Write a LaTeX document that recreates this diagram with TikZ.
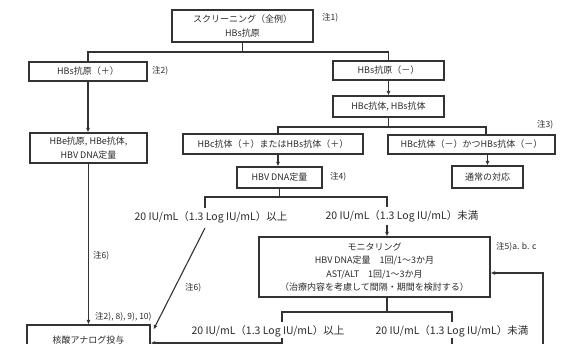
\documentclass[tikz,border=0pt]{standalone}
\usepackage{fontspec}
\setmainfont{Noto Sans CJK JP}
\usetikzlibrary{arrows.meta}
\definecolor{linec}{HTML}{333333}
\definecolor{txt}{HTML}{2B2B2B}
\begin{document}
\begin{tikzpicture}[x=1pt,y=-1pt,
 box/.style={draw=linec, line width=1.1pt, inner sep=0pt, align=center, text=txt, font=\fontsize{9}{13.5}\selectfont},
 lbl/.style={inner sep=0pt, text=txt, font=\fontsize{10.5}{12}\selectfont},
 note/.style={inner sep=0pt, anchor=west, text=txt, font=\fontsize{8.5}{10}\selectfont},
 conn/.style={draw=linec, line width=1.1pt},
 arr/.style={conn, -{Latex[length=4.5pt,width=4pt]}}]
\useasboundingbox (0,0) rectangle (573,344);
\fill[white] (0,0) rectangle (573,344);
\clip (0,0) rectangle (573,344);

\node[box, minimum width=141pt, minimum height=32pt] (top) at (242.5,26) {スクリーニング（全例）\\HBs抗原};
\node[box, minimum width=118pt, minimum height=19pt] (hbsp) at (88,71.5) {HBs抗原（＋）};
\node[box, minimum width=111pt, minimum height=19pt] (hbsn) at (388.5,70.5) {HBs抗原（－）};
\node[box, minimum width=111pt, minimum height=21pt] (hbcs) at (388.5,106.5) {HBc抗体, HBs抗体};
\node[box, minimum width=180pt, minimum height=20pt] (hbcp) at (273,144) {HBc抗体（＋）またはHBs抗体（＋）};
\node[box, minimum width=167pt, minimum height=19pt] (hbcn) at (471.5,144.5) {HBc抗体（－）かつHBs抗体（－）};
\node[box, minimum width=117pt, minimum height=30pt] (hbe) at (88.5,148) {HBe抗原, HBe抗体,\\HBV DNA定量};
\node[box, minimum width=85pt, minimum height=21pt] (hbv) at (279.5,177.5) {HBV DNA定量};
\node[box, minimum width=71pt, minimum height=22pt] (usual) at (487.5,177) {通常の対応};
\node[box, minimum width=231pt, minimum height=60pt] (mon) at (374.5,267) {モニタリング\\HBV DNA定量　1回/1～3か月\\AST/ALT　1回/1～3か月\\（治療内容を考慮して間隔・期間を検討する）};
\node[box, minimum width=123pt, minimum height=30pt] (nuc) at (88.5,340) {核酸アナログ投与};

\node[lbl] (u1) at (211,217) {20 IU/mL（1.3 Log IU/mL）以上};
\node[lbl] (u2) at (402,216) {20 IU/mL（1.3 Log IU/mL）未満};
\node[lbl] (l1) at (268,331) {20 IU/mL（1.3 Log IU/mL）以上};
\node[lbl] (l2) at (452,331) {20 IU/mL（1.3 Log IU/mL）未満};

\coordinate (hL) at (88,52);
\coordinate (hR) at (388.5,52);
\draw[conn] (top.south) -- (top.south |- hL);
\draw[conn] (hbsp.north) |- (hR) -- (hbsn.north);
\draw[arr] (hbsp.south) -- (hbsp.south |- hbe.north);
\draw[arr] (hbsn.south) -- (hbcs.north);

\coordinate (bL) at (278,127);
\coordinate (bR) at (486,127);
\draw[conn] (hbcs.south) -- (hbcs.south |- bL);
\draw[conn] (hbcp.north -| bL) -- (bL) -- (bR) -- (hbcn.north -| bR);
\draw[arr] (hbcp.south -| bL) -- (hbv.north -| bL);
\draw[arr] (hbcn.south -| usual.north) -- (usual.north);

\coordinate (cL) at (205,197);
\coordinate (cR) at (387,197);
\draw[conn] (hbv.south) -- (hbv.south |- cL);
\draw[conn] ([yshift=3pt]u1.north -| cL) -- (cL) -- (cR) -- ([yshift=3pt]u2.north -| cR);
\draw[arr] ([yshift=-3pt]u2.south -| cR) -- (mon.north -| cR);
\coordinate (d1) at (205,228);
\draw[arr] (d1) -- ([xshift=3pt,yshift=-5pt]nuc.north east);
\draw[arr] (hbe.south) -- (nuc.north);

\coordinate (eL) at (282,312);
\coordinate (eR) at (452,312);
\draw[conn] (mon.south -| cR) -- (cR |- eL);
\draw[conn] ([yshift=3pt]l1.north -| eL) -- (eL) -- (eR) -- ([yshift=3pt]l2.north -| eR);
\draw[arr] ([yshift=-1pt]l1.south -| eL) |- ([yshift=-3pt]nuc.east);
\coordinate (eB) at (452,350);
\draw[conn] ([yshift=-1pt]l2.south -| eR) -- (eB);
\coordinate (rb) at (543,350);
\draw[arr] (rb) |- ([yshift=-6pt]mon.east);

\node[note] (n1) at (322,18) {注1)};
\node[note] (n2) at (152,71) {注2)};
\node[note] (n3) at (537,125) {注3)};
\node[note] (n4) at (330,177) {注4)};
\node[note] (n5) at (496,247) {注5)a. b. c};
\node[note] (n6a) at (93,256) {注6)};
\node[note] (n6b) at (185,288) {注6)};
\node[note] (n7) at (95,317) {注2), 8), 9), 10)};
\end{tikzpicture}
\end{document}
